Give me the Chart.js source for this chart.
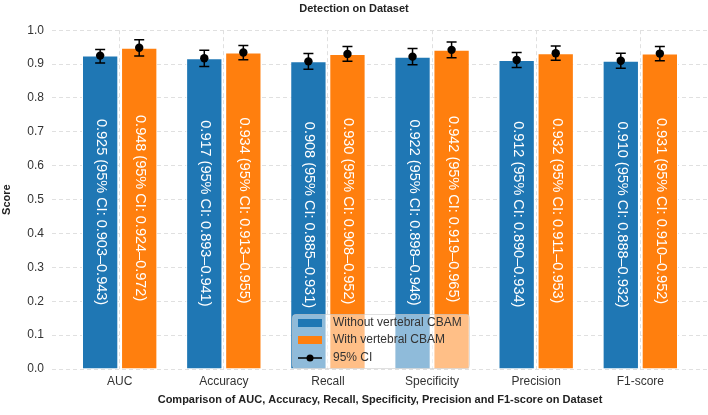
<!DOCTYPE html>
<html>
<head>
<meta charset="utf-8">
<style>
  html, body { margin: 0; padding: 0; background: #fff; }
  #wrap { width: 708px; height: 415px; }
</style>
<script src="https://cdn.jsdelivr.net/npm/chart.js@4.4.1/dist/chart.umd.min.js"></script>
</head>
<body>
<div id="wrap"><canvas id="c" width="708" height="415"></canvas></div>
<script>
// --- datos ---
const metrics = ["AUC", "Accuracy", "Recall", "Specificity", "Precision", "F1-score"];
const withoutVal = [0.925, 0.917, 0.908, 0.922, 0.912, 0.910];
const withoutLo  = [0.903, 0.893, 0.885, 0.898, 0.890, 0.888];
const withoutHi  = [0.943, 0.941, 0.931, 0.946, 0.934, 0.932];
const withVal = [0.948, 0.934, 0.930, 0.942, 0.932, 0.931];
const withLo  = [0.924, 0.913, 0.908, 0.919, 0.911, 0.910];
const withHi  = [0.972, 0.955, 0.952, 0.965, 0.953, 0.952];
const yTicks = [0, 0.1, 0.2, 0.3, 0.4, 0.5, 0.6, 0.7, 0.8, 0.9, 1.0];

const BLUE = "#1f77b4", ORANGE = "#ff7f0e";
const FONT = "'Liberation Sans', Arial, sans-serif";
const CI = [[withoutLo, withoutHi], [withLo, withHi]];

// barras de error + punto medio
const errorBars = {
  id: "errorBars",
  afterDatasetsDraw(chart) {
    const { ctx, scales: { y } } = chart;
    ctx.save();
    chart.data.datasets.forEach((ds, di) => {
      const meta = chart.getDatasetMeta(di);
      meta.data.forEach((bar, i) => {
        const x = bar.x;
        const yl = y.getPixelForValue(CI[di][0][i]);
        const yh = y.getPixelForValue(CI[di][1][i]);
        const ym = y.getPixelForValue(ds.data[i].y);
        ctx.strokeStyle = "#000"; ctx.lineWidth = 1.5;
        ctx.beginPath();
        ctx.moveTo(x, yl); ctx.lineTo(x, yh);
        ctx.moveTo(x - 5, yl); ctx.lineTo(x + 5, yl);
        ctx.moveTo(x - 5, yh); ctx.lineTo(x + 5, yh);
        ctx.stroke();
        ctx.fillStyle = "#000";
        ctx.beginPath(); ctx.arc(x, ym, 4.2, 0, Math.PI * 2); ctx.fill();
      });
    });
    ctx.restore();
  },
};

// etiquetas verticales dentro de las barras
const barLabels = {
  id: "barLabels",
  afterDatasetsDraw(chart) {
    const { ctx } = chart;
    ctx.save();
    ctx.fillStyle = "#fff";
    ctx.font = "14.5px " + FONT;
    ctx.textAlign = "center";
    ctx.textBaseline = "middle";
    chart.data.datasets.forEach((ds, di) => {
      const meta = chart.getDatasetMeta(di);
      meta.data.forEach((bar, i) => {
        const txt = ds.data[i].y.toFixed(3) + " (95% CI: " + CI[di][0][i].toFixed(3) + "\u2013" + CI[di][1][i].toFixed(3) + ")";
        ctx.save();
        ctx.translate(bar.x + 1, (bar.y + bar.base) / 2);
        ctx.rotate(Math.PI / 2);
        ctx.fillText(txt, 0, 0);
        ctx.restore();
      });
    });
    ctx.restore();
  },
};

// leyenda dentro del área, abajo al centro
const innerLegend = {
  id: "innerLegend",
  afterDraw(chart) {
    const { ctx, chartArea: a } = chart;
    const w = 177, h = 54;
    const lx = 292, ly = a.bottom - h - 1;
    ctx.save();
    ctx.fillStyle = "rgba(255,255,255,0.5)";
    ctx.strokeStyle = "rgba(204,204,204,0.6)";
    ctx.lineWidth = 1;
    ctx.beginPath();
    ctx.roundRect(lx + 0.5, ly + 0.5, w, h, 3);
    ctx.fill(); ctx.stroke();
    ctx.font = "12px " + FONT;
    ctx.textBaseline = "middle";
    ctx.textAlign = "left";
    const rows = [ly + 9, ly + 26, ly + 44];
    ctx.fillStyle = BLUE; ctx.fillRect(lx + 6, rows[0] - 4, 24, 8);
    ctx.fillStyle = ORANGE; ctx.fillRect(lx + 6, rows[1] - 4, 24, 8);
    ctx.strokeStyle = "#000"; ctx.lineWidth = 1.5;
    ctx.beginPath(); ctx.moveTo(lx + 6, rows[2]); ctx.lineTo(lx + 30, rows[2]); ctx.stroke();
    ctx.fillStyle = "#000";
    ctx.beginPath(); ctx.arc(lx + 18, rows[2], 3.5, 0, Math.PI * 2); ctx.fill();
    ctx.fillStyle = "#333";
    ctx.fillText("Without vertebral CBAM", lx + 41, rows[0]);
    ctx.fillText("With vertebral CBAM", lx + 41, rows[1]);
    ctx.fillText("95% CI", lx + 41, rows[2]);
    ctx.restore();
  },
};

const gridStyle = { color: "#e0e0e0", lineWidth: 1, drawTicks: false };

new Chart(document.getElementById("c"), {
  type: "bar",
  data: {
    datasets: [
      { label: "Without vertebral CBAM", data: withoutVal.map((v, i) => ({ x: i, y: v })),
        backgroundColor: BLUE, borderColor: "#fff", borderWidth: 1 },
      { label: "With vertebral CBAM", data: withVal.map((v, i) => ({ x: i, y: v })),
        backgroundColor: ORANGE, borderColor: "#fff", borderWidth: 1 },
    ],
  },
  options: {
    responsive: false, animation: false,
    categoryPercentage: 0.75, barPercentage: 0.93,
    layout: { padding: { left: 0, right: 0, top: 0, bottom: 0 } },
    plugins: {
      legend: { display: false }, tooltip: { enabled: false },
      title: { display: true, text: "Detection on Dataset", color: "#222",
        font: { family: FONT, size: 11, weight: "bold" }, padding: { top: 2, bottom: 15 } },
    },
    scales: {
      x: {
        type: "linear", min: -0.65, max: 5.65, offset: false,
        afterBuildTicks: (s) => { s.ticks = metrics.map((_, i) => ({ value: i })); },
        afterFit: (s) => { s.height = 46; },
        grid: { ...gridStyle, offset: false },
        border: { display: false, dash: [4, 3] },
        ticks: { padding: 5, color: "#333", font: { family: FONT, size: 12 }, callback: (v) => metrics[v] },
        title: { display: true, text: "Comparison of AUC, Accuracy, Recall, Specificity, Precision and F1-score on Dataset",
          color: "#222", font: { family: FONT, size: 11, weight: "bold" }, padding: { top: 4, bottom: 8 } },
      },
      y: {
        min: 0, max: 1.0,
        afterBuildTicks: (s) => { s.ticks = yTicks.map((v) => ({ value: v })); },
        afterFit: (s) => { s.width = 52; },
        grid: gridStyle,
        border: { display: false, dash: [4, 3] },
        ticks: { padding: 8, color: "#333", font: { family: FONT, size: 12 }, callback: (v) => v.toFixed(1) },
        title: { display: true, text: "Score", color: "#222",
          font: { family: FONT, size: 11, weight: "bold" }, padding: { top: 0, bottom: 2 } },
      },
    },
  },
  plugins: [errorBars, barLabels, innerLegend],
});
</script>
</body>
</html>
